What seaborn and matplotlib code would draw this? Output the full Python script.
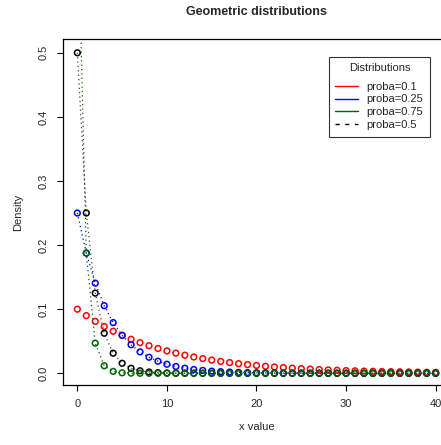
import numpy as np
import pandas as pd
import matplotlib
matplotlib.use("Agg")
import matplotlib.pyplot as plt
from matplotlib.lines import Line2D
import seaborn as sns

# wartosci, x = 0..40
x_vals = list(range(41))
p010 = [0.1, 0.09, 0.081, 0.0729, 0.0656, 0.0590, 0.0531, 0.0478, 0.0430, 0.0387,
        0.0349, 0.0314, 0.0282, 0.0254, 0.0229, 0.0206, 0.0185, 0.0167, 0.0150, 0.0135,
        0.0122, 0.0109, 0.0098, 0.0089, 0.0080, 0.0072, 0.0065, 0.0058, 0.0052, 0.0047,
        0.0042, 0.0038, 0.0034, 0.0031, 0.0028, 0.0025, 0.0023, 0.0020, 0.0018, 0.0016,
        0.0015]
p025 = [0.25, 0.1875, 0.1406, 0.1055, 0.0791, 0.0593, 0.0445, 0.0334, 0.0250, 0.0188,
        0.0141, 0.0106, 0.0079, 0.0059, 0.0045, 0.0033, 0.0025, 0.0019, 0.0014, 0.0011,
        0.0008, 0.0006, 0.0004, 0.0003, 0.0003, 0.0002, 0.0001, 0.0001, 0.0001, 0.0001,
        0.0, 0.0, 0.0, 0.0, 0.0, 0.0, 0.0, 0.0, 0.0, 0.0,
        0.0]
p050 = [0.5, 0.25, 0.125, 0.0625, 0.0313, 0.0156, 0.0078, 0.0039, 0.0020, 0.0010,
        0.0005, 0.0002, 0.0001, 0.0001, 0.0, 0.0, 0.0, 0.0, 0.0, 0.0,
        0.0, 0.0, 0.0, 0.0, 0.0, 0.0, 0.0, 0.0, 0.0, 0.0,
        0.0, 0.0, 0.0, 0.0, 0.0, 0.0, 0.0, 0.0, 0.0, 0.0,
        0.0]
p075 = [0.75, 0.1875, 0.0469, 0.0117, 0.0029, 0.0007, 0.0002, 0.0, 0.0, 0.0,
        0.0, 0.0, 0.0, 0.0, 0.0, 0.0, 0.0, 0.0, 0.0, 0.0,
        0.0, 0.0, 0.0, 0.0, 0.0, 0.0, 0.0, 0.0, 0.0, 0.0,
        0.0, 0.0, 0.0, 0.0, 0.0, 0.0, 0.0, 0.0, 0.0, 0.0,
        0.0]

legend_labels = ['proba=0.1', 'proba=0.25', 'proba=0.75', 'proba=0.5']

sns.set_theme(style="white")
plt.rcParams['font.family'] = ['Liberation Sans', 'DejaVu Sans']

fig = plt.figure(figsize=(4.41, 4.45), dpi=100)
ax = fig.add_axes([63/441, 1-385/445, 387/441, 346/445])

df = pd.DataFrame({'x': x_vals, 'p010': p010, 'p025': p025, 'p050': p050, 'p075': p075})

# linie kropkowane
dots = (0, (1, 2.5))
sns.lineplot(data=df, x='x', y='p025', ax=ax, color='blue', linestyle=dots, linewidth=0.9)
sns.lineplot(data=df, x='x', y='p050', ax=ax, color='#444444', linestyle=dots, linewidth=0.9)
sns.lineplot(data=df, x='x', y='p075', ax=ax, color='#006400', linestyle=dots, linewidth=0.9)

# punkty
for col, c in [('p010', 'red'), ('p025', 'blue'), ('p050', 'black'), ('p075', '#006400')]:
    sns.scatterplot(data=df, x='x', y=col, ax=ax, marker='o', s=17,
                    facecolor='none', edgecolor=c, linewidth=1.1, zorder=3)

ax.set_xlim(-1.6, 41.6)
ax.set_ylim(-0.0183, 0.5215)
ax.set_xticks([0, 10, 20, 30, 40])
ax.set_yticks([0.0, 0.1, 0.2, 0.3, 0.4, 0.5])
ax.set_yticklabels(['0.0', '0.1', '0.2', '0.3', '0.4', '0.5'], rotation=90, va='center')
ax.tick_params(axis='both', direction='out', length=4.3, width=0.8, color='black',
               labelsize=8, pad=6, bottom=True, left=True)
for s in ax.spines.values():
    s.set_color('black')
    s.set_linewidth(0.9)

ax.set_xlabel('x value', fontsize=8, labelpad=9)
ax.set_ylabel('Density', fontsize=8, labelpad=11)
fig.text(256/441, 1-12/445, 'Geometric distributions', ha='center', va='center',
         fontsize=9, fontweight='bold')

handles = [Line2D([], [], color='red', lw=1),
           Line2D([], [], color='blue', lw=1),
           Line2D([], [], color='#006400', lw=1),
           Line2D([], [], color='black', lw=1, linestyle=(0, (3, 4)))]
leg = ax.legend(handles, legend_labels, title='Distributions', loc='upper right',
                bbox_to_anchor=(430/441, 1-56.7/445), bbox_transform=fig.transFigure,
                borderaxespad=0, fontsize=8, title_fontsize=8, frameon=True,
                fancybox=False, edgecolor='black', handlelength=2.0, labelspacing=0.25,
                handletextpad=0.8, borderpad=0.6)
leg.get_frame().set_linewidth(0.8)
leg._legend_box.sep = 6

fig.savefig('out.png', dpi=100)
